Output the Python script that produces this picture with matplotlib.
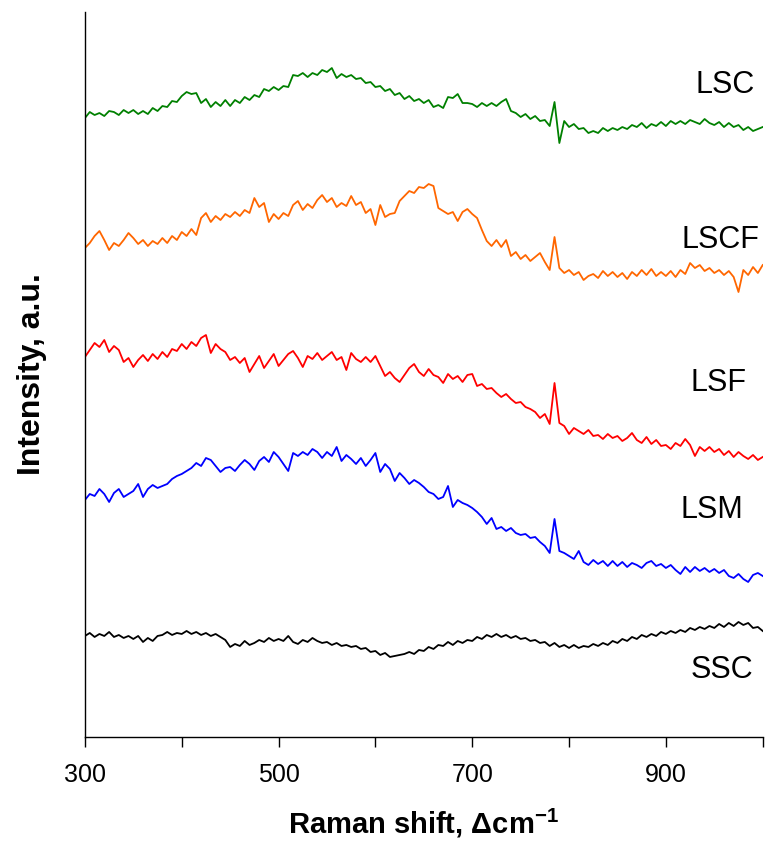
import numpy as np
import matplotlib
matplotlib.use("Agg")
import matplotlib.pyplot as plt

plt.rcParams["font.family"] = ["Liberation Sans", "DejaVu Sans"]
plt.rcParams["mathtext.fontset"] = "custom"
plt.rcParams["mathtext.rm"] = "Liberation Sans"
plt.rcParams["mathtext.bf"] = "Liberation Sans:bold"

# Raman shift grid (cm^-1), 5 cm^-1 step
shift = np.arange(300, 1001, 5)

# intensities (a.u., spectra already offset for stacking)
lsc = [
    619, 625, 622, 624, 621, 626, 625, 622, 627, 624,
    627, 623, 626, 623, 629, 626, 631, 630, 636, 635,
    641, 645, 643, 644, 634, 638, 630, 635, 631, 637,
    631, 637, 634, 640, 637, 642, 640, 648, 646, 650,
    647, 651, 650, 662, 661, 664, 660, 664, 662, 667,
    665, 669, 659, 663, 660, 662, 658, 659, 654, 655,
    650, 651, 646, 648, 642, 644, 638, 641, 636, 638,
    634, 637, 630, 632, 629, 640, 639, 643, 634, 634,
    633, 630, 634, 631, 634, 631, 635, 638, 626, 624,
    620, 623, 618, 621, 616, 617, 611, 635, 594, 616,
    610, 613, 608, 609, 604, 606, 604, 609, 606, 609,
    607, 610, 608, 612, 610, 614, 609, 613, 611, 615,
    611, 616, 613, 616, 613, 617, 615, 613, 618, 614,
    612, 615, 610, 614, 610, 612, 607, 610, 606, 608,
    610,
]
lscf = [
    489, 494, 501, 506, 497, 487, 494, 491, 497, 504,
    499, 493, 497, 491, 496, 493, 499, 494, 501, 497,
    505, 501, 508, 502, 519, 524, 515, 521, 517, 523,
    520, 525, 521, 527, 524, 539, 530, 534, 515, 523,
    518, 524, 521, 532, 536, 527, 533, 529, 537, 542,
    535, 539, 530, 534, 531, 541, 532, 535, 524, 528,
    512, 532, 520, 523, 524, 536, 541, 546, 544, 550,
    549, 553, 551, 529, 526, 523, 525, 516, 525, 528,
    523, 519, 507, 496, 491, 497, 490, 497, 481, 485,
    478, 482, 476, 480, 484, 475, 467, 500, 469, 464,
    467, 462, 465, 457, 461, 463, 459, 466, 461, 465,
    460, 464, 458, 465, 461, 467, 462, 468, 461, 465,
    461, 466, 460, 467, 463, 474, 469, 472, 466, 469,
    464, 467, 462, 466, 460, 445, 467, 462, 470, 464,
    472,
]
lsf = [
    380, 387, 394, 390, 397, 385, 391, 387, 375, 379,
    370, 377, 382, 376, 383, 378, 385, 380, 388, 386,
    393, 388, 395, 391, 399, 402, 384, 393, 388, 385,
    377, 380, 374, 379, 365, 373, 381, 369, 376, 383,
    371, 377, 383, 386, 379, 370, 381, 378, 384, 377,
    381, 385, 377, 380, 367, 384, 378, 375, 380, 375,
    381, 371, 361, 365, 359, 355, 362, 369, 373, 365,
    361, 368, 362, 360, 354, 363, 358, 361, 355, 362,
    363, 351, 353, 348, 349, 344, 340, 343, 338, 334,
    335, 330, 328, 325, 319, 323, 313, 354, 314, 311,
    303, 309, 306, 303, 307, 301, 302, 298, 303, 299,
    301, 296, 299, 304, 297, 294, 300, 293, 297, 291,
    292, 288, 294, 291, 298, 292, 281, 290, 286, 290,
    285, 288, 282, 286, 280, 285, 281, 278, 282, 277,
    280,
]
lsm = [
    237, 243, 241, 248, 243, 235, 244, 248, 240, 243,
    246, 253, 240, 248, 252, 249, 251, 253, 258, 261,
    263, 266, 269, 274, 271, 279, 277, 271, 265, 269,
    270, 266, 272, 277, 273, 267, 276, 280, 275, 285,
    280, 273, 266, 284, 281, 285, 282, 288, 285, 279,
    285, 281, 290, 276, 282, 278, 273, 279, 271, 277,
    284, 265, 273, 268, 256, 264, 259, 253, 257, 254,
    250, 245, 243, 238, 240, 251, 230, 237, 234, 232,
    229, 225, 220, 213, 219, 208, 210, 206, 209, 204,
    202, 203, 199, 200, 195, 191, 184, 218, 186, 184,
    181, 178, 186, 175, 172, 177, 173, 176, 171, 176,
    171, 175, 170, 174, 172, 169, 174, 176, 171, 173,
    169, 172, 167, 163, 170, 165, 170, 166, 169, 165,
    168, 164, 167, 161, 159, 163, 158, 155, 162, 164,
    161,
]
ssc = [
    101, 104, 100, 103, 101, 105, 100, 102, 99, 101,
    98, 101, 95, 99, 96, 101, 102, 105, 102, 104,
    103, 106, 103, 105, 102, 104, 101, 103, 100, 97,
    90, 93, 91, 96, 92, 94, 97, 95, 99, 96,
    98, 96, 101, 95, 93, 97, 95, 99, 96, 94,
    95, 92, 94, 91, 92, 90, 91, 88, 89, 85,
    86, 82, 84, 80, 81, 82, 83, 85, 83, 87,
    86, 90, 88, 92, 91, 95, 92, 96, 94, 97,
    96, 100, 98, 102, 100, 103, 100, 102, 99, 101,
    98, 99, 96, 97, 94, 95, 91, 94, 90, 92,
    89, 92, 89, 91, 90, 93, 91, 94, 92, 96,
    94, 98, 96, 100, 98, 102, 100, 103, 101, 105,
    103, 106, 104, 107, 105, 109, 107, 110, 108, 111,
    109, 113, 110, 114, 111, 115, 112, 114, 109, 110,
    106,
]

names = ["LSC", "LSCF", "LSF", "LSM", "SSC"]
spectra = [lsc, lscf, lsf, lsm, ssc]
colors = ["#008000", "#FF6600", "#FF0000", "#0000FF", "#000000"]
label_x = [961, 956, 954, 947, 958]
label_y = [652, 497, 354, 227, 67]

fig = plt.figure(figsize=(7.65, 8.41), dpi=100)
ax = fig.add_axes([0.111, 0.1237, 0.886, 0.862])

for name, y, c, lx, ly in zip(names, spectra, colors, label_x, label_y):
    ax.plot(shift, y, color=c, lw=1.3)
    ax.text(lx, ly, name, fontsize=22, ha="center", va="center")

ax.set_xlim(300, 1000)
ax.set_ylim(0, 725)
ax.set_xticks(np.arange(300, 1001, 100))
ax.set_xticklabels(["300", "", "500", "", "700", "", "900", ""])
ax.tick_params(axis="x", direction="out", length=7, width=1, labelsize=18, pad=12)
ax.set_yticks([])
for s in ["top", "right"]:
    ax.spines[s].set_visible(False)
ax.spines["left"].set_linewidth(1)
ax.spines["bottom"].set_linewidth(1)

ax.set_xlabel(r"Raman shift, Δcm$^{\mathbf{-1}}$", fontsize=21, fontweight="bold", labelpad=14)
ax.set_ylabel("Intensity, a.u.", fontsize=23, fontweight="bold", labelpad=27)

fig.savefig("out.png", dpi=100)
